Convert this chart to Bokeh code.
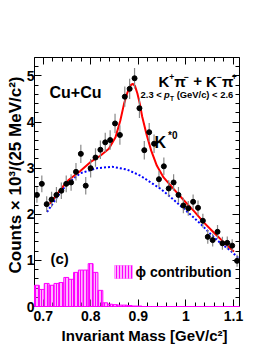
import math
from bokeh.plotting import figure
from bokeh.models import Range1d, LinearAxis, Label, BoxAnnotation, SingleIntervalTicker
from bokeh.embed import file_html
from bokeh.resources import INLINE

# ---- data ----
mass = [0.6868, 0.6971, 0.7073, 0.7176, 0.7278, 0.7381, 0.7484, 0.7586, 0.7689, 0.7791,
        0.7894, 0.7997, 0.8099, 0.8202, 0.8304, 0.8407, 0.8510, 0.8612, 0.8715, 0.8817,
        0.8920, 0.9023, 0.9125, 0.9228, 0.9330, 0.9433, 0.9536, 0.9638, 0.9741, 0.9843,
        0.9946, 1.0049, 1.0151, 1.0254, 1.0356, 1.0459, 1.0562, 1.0664, 1.0767, 1.0869,
        1.0972, 1.1075]
half_bin = 0.00513
counts = [2.42, 2.66, 2.22, 2.32, 2.42, 2.51, 2.66, 2.69, 2.92, 3.31,
          2.62, 3.00, 3.23, 3.40, 3.56, 3.61, 3.97, 3.72, 4.55, 4.72,
          4.95, 4.30, 3.39, 3.78, 3.53, 2.76, 3.04, 2.56, 2.69, 2.42,
          2.19, 2.13, 2.27, 2.14, 1.86, 1.51, 1.44, 1.62, 1.37, 1.38,
          1.32, 0.99]
errors = [0.17, 0.18, 0.17, 0.17, 0.17, 0.18, 0.18, 0.18, 0.19, 0.20,
          0.19, 0.20, 0.20, 0.20, 0.21, 0.21, 0.21, 0.21, 0.22, 0.22,
          0.22, 0.21, 0.20, 0.20, 0.20, 0.18, 0.19, 0.18, 0.18, 0.17,
          0.17, 0.16, 0.16, 0.16, 0.15, 0.15, 0.14, 0.15, 0.14, 0.14,
          0.14, 0.13]
phi = [0.46, 0.37, 0.50, 0.46, 0.50, 0.52, 0.63, 0.59, 0.74, 0.79,
       0.79, 0.93, 0.74, 0.35, 0.08, 0.05, 0.04, 0.03, 0.03, 0.02,
       0.01, 0.01, 0.0, 0.0, 0.0, 0.0, 0.0, 0.0, 0.0, 0.0,
       0.0, 0.0, 0.0, 0.0, 0.0, 0.0, 0.0, 0.0, 0.0, 0.0,
       0.0, 0.0]
fit_m = [0.714, 0.743, 0.754, 0.778, 0.799, 0.820, 0.838, 0.852, 0.862, 0.870,
         0.877, 0.883, 0.888, 0.893, 0.898, 0.903, 0.908, 0.917, 0.927, 0.939,
         0.953, 0.974, 0.995, 1.016, 1.038, 1.059, 1.080, 1.101]
fit_v = [2.23, 2.62, 2.75, 2.94, 3.13, 3.27, 3.42, 3.67, 4.03, 4.40,
         4.64, 4.79, 4.83, 4.78, 4.62, 4.40, 4.12, 3.74, 3.38, 3.05,
         2.80, 2.55, 2.31, 2.08, 1.82, 1.60, 1.39, 1.19]
bkg_m = [0.708, 0.729, 0.750, 0.778, 0.813, 0.845, 0.876, 0.904, 0.926, 0.947,
         0.968, 0.989, 1.010, 1.031, 1.052, 1.073, 1.094, 1.1126]
bkg_v = [2.05, 2.37, 2.66, 2.89, 3.00, 3.03, 2.97, 2.84, 2.69, 2.55,
         2.37, 2.18, 1.99, 1.79, 1.57, 1.37, 1.21, 1.03]

# axis extents of the drawn frame
X_LO, X_HI = 0.6817, 1.1126
Y_LO, Y_HI = 0.0, 5.4

FONT = "Liberation Sans"
W, H = 266, 344
# frame position on the canvas (pixels): left 34, right 239, top 57, bottom 306
FL, FR, FT, FB = 34, 239, 57, 306
sx = (X_HI - X_LO) / (FR - FL)
sy = (Y_HI - Y_LO) / (FB - FT)

p = figure(width=W, height=H,
           x_range=Range1d(X_LO - FL * sx, X_HI + (W - FR) * sx),
           y_range=Range1d(Y_LO - (H - FB) * sy, Y_HI + FT * sy),
           output_backend="svg", toolbar_location=None,
           x_axis_location=None, y_axis_location=None,
           min_border_left=0, min_border_right=0, min_border_top=0, min_border_bottom=0)
p.grid.visible = False
p.outline_line_color = None
p.background_fill_color = "white"
p.border_fill_color = "white"

def make_axis(interval, loc, bounds, labels):
    ax = LinearAxis(ticker=SingleIntervalTicker(interval=interval, num_minor_ticks=5),
                    fixed_location=loc, bounds=bounds)
    ax.major_tick_in = 7
    ax.major_tick_out = 0
    ax.minor_tick_in = 4
    ax.minor_tick_out = 0
    ax.axis_line_color = "black"
    ax.major_tick_line_color = "black"
    ax.minor_tick_line_color = "black"
    ax.major_label_text_font = FONT
    ax.major_label_text_font_style = "bold"
    ax.major_label_text_color = "black"
    ax.major_label_text_font_size = "14px" if labels else "0px"
    return ax

xb = make_axis(0.1, Y_LO, (X_LO, X_HI), True)
xb.major_label_standoff = 4
p.add_layout(xb, "below")
p.add_layout(make_axis(0.1, Y_HI, (X_LO, X_HI), False), "above")
yl = make_axis(1, X_LO, (Y_LO, Y_HI), True)
yl.major_label_standoff = 0
p.add_layout(yl, "left")
p.add_layout(make_axis(1, X_HI, (Y_LO, Y_HI), False), "right")

# phi contribution histogram
lefts = [m - half_bin for m in mass]
rights = [m + half_bin for m in mass]
h = p.quad(left=lefts, right=rights, bottom=0, top=phi, fill_color="#ff66ff", fill_alpha=0.5,
           hatch_pattern="|", hatch_color="#ff00ff", hatch_scale=3, hatch_weight=1,
           line_color="#ff00ff", line_width=1)
h.level = "overlay"

# background (blue dotted) and fit (red)
p.line(bkg_m, bkg_v, line_color="#0000ff", line_width=2, line_dash="2 2")
p.line(fit_m, fit_v, line_color="#ff0000", line_width=2)

# data with error bars
p.segment(x0=mass, y0=[c - e for c, e in zip(counts, errors)],
          x1=mass, y1=[c + e for c, e in zip(counts, errors)],
          line_color="#888888", line_width=1.2)
p.scatter(mass, counts, size=5, color="black")

SHIFT = 0.3  # empirical baseline correction, in em

def lab(text, x, y, size, align="left", style="bold", angle=0.0):
    # x, y: canvas pixels from the top-left corner, y = text baseline
    if angle == 0.0:
        y = y - SHIFT * size
    else:
        x = x - SHIFT * size
    p.add_layout(Label(x=x, y=H - y, x_units="screen", y_units="screen", text=text,
                       text_font=FONT, text_font_size=f"{size}px", text_font_style=style,
                       text_align=align, text_baseline="alphabetic", text_color="black",
                       angle=angle))

def seq(parts, x0, y):
    # parts: (text, font size px, raise px, advance width in em); empty text = gap only
    x = x0
    for text, size, rise, adv in parts:
        if text:
            lab(text, x, y - rise, size)
        x += adv * size

# axis titles
lab("Counts \u00d7 10\u00b3/(25 MeV/c\u00b2)", 20.5, 76, 17, align="right", angle=math.pi / 2)
lab("Invariant Mass [GeV/c\u00b2]", 227, 339, 15, align="right")

# annotations
lab("Cu+Cu", 49, 97, 16)
BIG, SUP = 15, 8.5
MINUS = "\u2212"
seq([("K", BIG, 0, 0.722), ("+", SUP, 6, 0.584), ("\u03c0", BIG, 0, 0.65),
     (MINUS, SUP, 6, 0.584), ("", BIG, 0, 0.278), ("+", BIG, 0, 0.584), ("", BIG, 0, 0.278),
     ("K", BIG, 0, 0.722), (MINUS, SUP, 6, 0.584), ("\u03c0", BIG, 0, 0.65),
     ("+", SUP, 6, 0.584)], 158.0, 85)
lab("2.3 <", 161.2, 97, 9.4, align="right")
lab("p", 163.6, 97, 9.4, style="bold italic")
lab("T", 169.6, 99.5, 6.5)
lab("(GeV/c) < 2.6", 232.7, 97, 9.4, align="right")
lab("K", 154, 147, 16)
lab("*0", 167.5, 137.5, 10)
lab("(c)", 50, 262, 15)

# legend
p.add_layout(BoxAnnotation(left=114, right=132, bottom=H - 278, top=H - 265,
                           left_units="screen", right_units="screen",
                           bottom_units="screen", top_units="screen",
                           fill_color="#ff66ff", fill_alpha=0.5,
                           hatch_pattern="|", hatch_color="#ff00ff", hatch_scale=3,
                           line_color="#ff00ff", line_width=1))
lab("\u03d5 contribution", 135, 276, 14)

open("out.html", "w").write(file_html(p, INLINE))
